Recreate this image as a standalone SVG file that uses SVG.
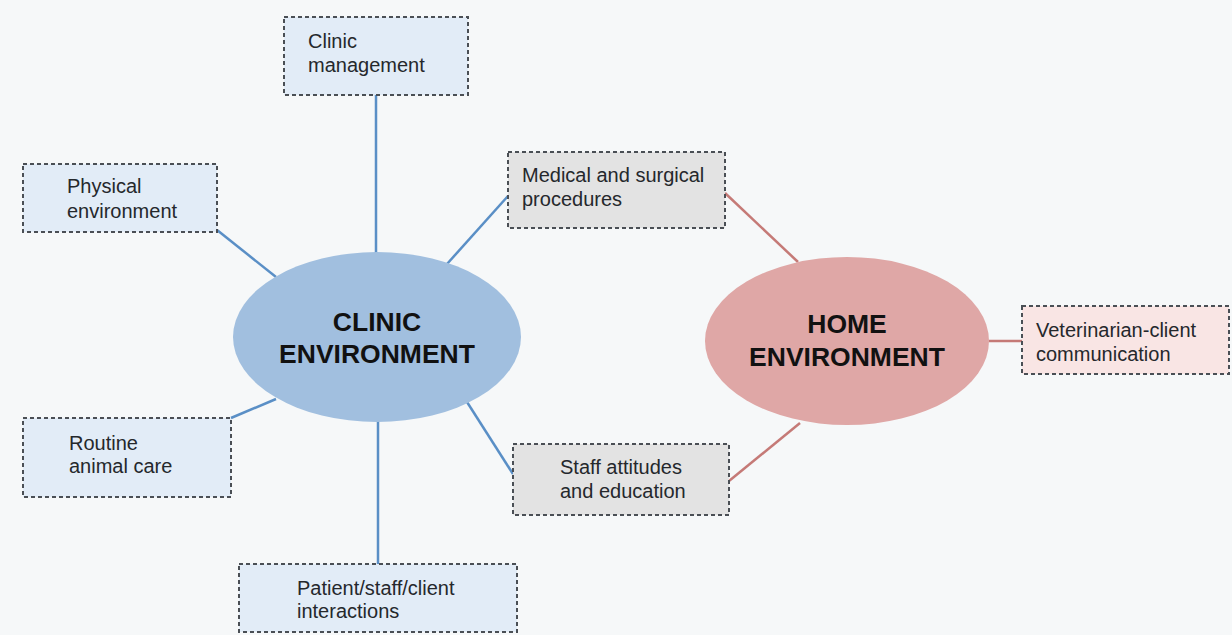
<svg xmlns="http://www.w3.org/2000/svg" width="1232" height="635" viewBox="0 0 1232 635">
  <style>
    .box { stroke: #4a4f55; stroke-width: 2; stroke-dasharray: 4 3; }
    .blue { fill: #e2ecf7; }
    .grey { fill: #e3e3e3; }
    .pink { fill: #f9e5e4; }
    .lbl { font-family: "Liberation Sans", Arial, sans-serif; font-size: 20px; fill: #25282c; }
    .hub { font-family: "Liberation Sans", Arial, sans-serif; font-size: 26.5px; font-weight: bold; fill: #111; text-anchor: middle; }
    .cb { stroke: #5a8fc6; stroke-width: 2.5; fill: none; }
    .cr { stroke: #c57a77; stroke-width: 2.5; fill: none; }
  </style>
  <rect width="1232" height="635" fill="#f6f8f9"/>

  <!-- connectors -->
  <g id="connectors">
    <line class="cb" x1="376" y1="95" x2="376" y2="253"/>
    <line class="cb" x1="217" y1="230" x2="276" y2="277"/>
    <line class="cb" x1="508" y1="196" x2="447" y2="264"/>
    <line class="cb" x1="231" y1="418" x2="276" y2="399"/>
    <line class="cb" x1="378" y1="421" x2="378" y2="564"/>
    <line class="cb" x1="467" y1="402" x2="513" y2="474"/>
    <line class="cr" x1="725" y1="193" x2="798" y2="262"/>
    <line class="cr" x1="729" y1="481" x2="800" y2="423"/>
    <line class="cr" x1="989" y1="341" x2="1022" y2="341"/>
  </g>

  <!-- hubs -->
  <g id="clinic-environment">
    <ellipse cx="377" cy="337" rx="144" ry="85" fill="#a1bfdf"/>
    <text class="hub" x="377" y="331">CLINIC</text>
    <text class="hub" x="377" y="363">ENVIRONMENT</text>
  </g>
  <g id="home-environment">
    <ellipse cx="847" cy="341" rx="142" ry="84" fill="#dfa7a6"/>
    <text class="hub" x="847" y="333">HOME</text>
    <text class="hub" x="847" y="366">ENVIRONMENT</text>
  </g>

  <!-- clinic factors -->
  <g id="clinic-management">
    <rect class="box blue" x="284" y="17" width="184" height="78"/>
    <text class="lbl" x="308" y="48">Clinic</text>
    <text class="lbl" x="308" y="72">management</text>
  </g>
  <g id="physical-environment">
    <rect class="box blue" x="23" y="164" width="194" height="68"/>
    <text class="lbl" x="67" y="193">Physical</text>
    <text class="lbl" x="67" y="218">environment</text>
  </g>
  <g id="medical-surgical">
    <rect class="box grey" x="508" y="152" width="217" height="76"/>
    <text class="lbl" x="522" y="182">Medical and surgical</text>
    <text class="lbl" x="522" y="206">procedures</text>
  </g>
  <g id="routine-care">
    <rect class="box blue" x="23" y="418" width="208" height="79"/>
    <text class="lbl" x="69" y="450">Routine</text>
    <text class="lbl" x="69" y="473">animal care</text>
  </g>
  <g id="staff-attitudes">
    <rect class="box grey" x="513" y="444" width="216" height="71"/>
    <text class="lbl" x="560" y="474">Staff attitudes</text>
    <text class="lbl" x="560" y="498">and education</text>
  </g>
  <g id="interactions">
    <rect class="box blue" x="239" y="564" width="278" height="68"/>
    <text class="lbl" x="297" y="595">Patient/staff/client</text>
    <text class="lbl" x="297" y="618">interactions</text>
  </g>

  <!-- home factor -->
  <g id="vet-client-communication">
    <rect class="box pink" x="1022" y="306" width="207" height="68"/>
    <text class="lbl" x="1036" y="337">Veterinarian-client</text>
    <text class="lbl" x="1036" y="361">communication</text>
  </g>
</svg>
